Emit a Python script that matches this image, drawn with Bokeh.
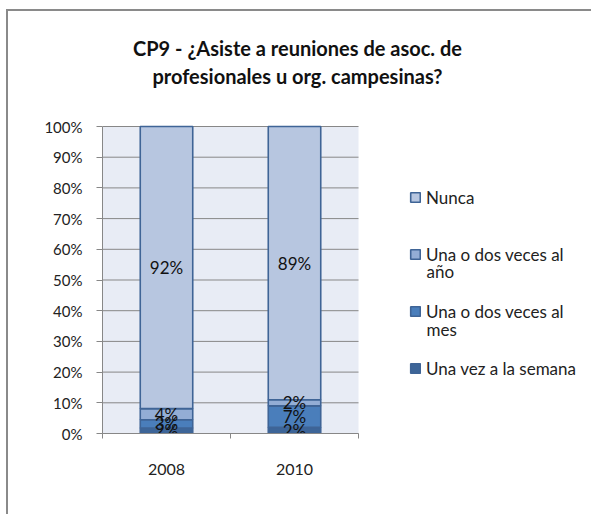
from bokeh.plotting import figure
from bokeh.models import (FixedTicker, Legend, LegendItem, Label, ColumnDataSource, Range1d,
                          BoxAnnotation)
from bokeh.embed import file_html
from bokeh.resources import INLINE
from bokeh.core.properties import value

# ---------------- data ----------------
years = ["2008", "2010"]
series_keys = ["semana", "mes", "ano", "nunca"]
semana = [1.8, 2.0]
mes = [2.7, 7.0]
ano = [3.6, 2.0]
nunca = [91.9, 89.0]
y_ticks = [0, 10, 20, 30, 40, 50, 60, 70, 80, 90, 100]
title_lines = ["CP9 - ¿Asiste a reuniones de asoc. de",
               "profesionales u org. campesinas?"]
legend_labels = ["Nunca", "Una o dos veces al", "Una o dos veces al", "Una vez a la semana"]
legend_series = [3, 2, 1, 0]
legend_second_lines = ["año", "mes"]

# ---------------- style / layout ----------------
FONT = "Lato"
colors = ["#3D6598", "#4A7EBB", "#93ADD5", "#B7C6E0"]
bar_line = "#3F6496"
grid_col = "#878787"
text_col = "#222222"

PX_PER_PCT = 3.07      # plot-area height 307 px for 100 %
PX_PER_CAT = 128.0     # plot-area width per category
W, H = 585, 505
ML, MT, MR, MB = 94, 3, 2, 83
frame_w = W - ML - MR
frame_h = H - MT - MB
x_max = frame_w / PX_PER_CAT
y_max = frame_h / PX_PER_PCT

def dx(px):  # pixels right of plot-area left edge -> data x
    return px / PX_PER_CAT

def dy(px):  # pixels above plot-area bottom -> data y
    return px / PX_PER_PCT

x = [i + 0.5 for i in range(len(years))]
src = ColumnDataSource(dict(x=x, semana=semana, mes=mes, ano=ano, nunca=nunca))

p = figure(width=W, height=H, x_range=Range1d(0, x_max), y_range=Range1d(0, y_max),
           output_backend="svg", toolbar_location=None,
           min_border_left=ML, min_border_right=MR, min_border_top=MT, min_border_bottom=MB)
p.styles = {"margin-left": "6px", "margin-top": "9px",
            "border-left": "2px solid #8a8a8a", "border-top": "2px solid #8a8a8a"}
p.border_fill_color = "white"
p.background_fill_color = "white"
p.outline_line_color = None

# plot-area background spanning the categories and the 0-100 % scale
p.add_layout(BoxAnnotation(left=0, right=len(years), bottom=y_ticks[0], top=y_ticks[-1],
                           fill_color="#E8ECF5", fill_alpha=1, line_color=None, level="image"))

# horizontal gridlines limited to the plot area (category span)
p.xgrid.visible = False
p.ygrid.visible = False
n_cat = len(years)
grid_r = p.segment(x0=[0] * len(y_ticks), x1=[n_cat] * len(y_ticks), y0=y_ticks, y1=y_ticks,
                   line_color=grid_col, line_width=1, level="underlay")

renderers = p.vbar_stack(series_keys, x="x", width=0.41, source=src,
                         fill_color=colors, line_color=bar_line, line_width=1.6)

# data labels
vals = {"semana": semana, "mes": mes, "ano": ano, "nunca": nunca}
lx, ly, lt = [], [], []
for i in range(len(years)):
    bottom = 0.0
    for k in series_keys:
        v = vals[k][i]
        lx.append(x[i])
        ly.append(bottom + v / 2)
        lt.append(f"{round(v)}%")
        bottom += v
p.text(x=lx, y=ly, text=lt, text_align="center", text_baseline="middle",
       text_font=value(FONT), text_font_size="17px", text_color="#111111")

# axes
p.yaxis.ticker = FixedTicker(ticks=y_ticks)
p.yaxis.bounds = (y_ticks[0], y_ticks[-1])
p.yaxis.major_label_overrides = {t: f"{t}%" for t in y_ticks}
p.yaxis.major_tick_out = 6
p.yaxis.major_tick_in = 0
p.yaxis.minor_tick_line_color = None
p.yaxis.major_label_standoff = 14
p.yaxis.axis_line_color = grid_col
p.yaxis.major_tick_line_color = grid_col

p.xaxis.ticker = FixedTicker(ticks=x, minor_ticks=[float(i) for i in range(n_cat + 1)])
p.xaxis.bounds = (0, n_cat)
p.xaxis.major_label_overrides = {x[i]: years[i] for i in range(n_cat)}
p.xaxis.major_tick_out = 0
p.xaxis.major_tick_in = 0
p.xaxis.minor_tick_out = 5
p.xaxis.minor_tick_in = 0
p.xaxis.minor_tick_line_color = grid_col
p.xaxis.axis_line_color = grid_col
p.xaxis.major_label_standoff = 25

for ax in (p.xaxis, p.yaxis):
    ax.major_label_text_font = FONT
    ax.major_label_text_color = "#222222"
p.yaxis.major_label_text_font_size = "15px"
p.xaxis.major_label_text_font_size = "16px"

# legend
items = [LegendItem(label=legend_labels[j], renderers=[renderers[legend_series[j]]])
         for j in range(len(legend_labels))]
legend = Legend(items=items, location=(307, 54), orientation="vertical",
                glyph_width=12, glyph_height=12, label_height=22, label_standoff=5,
                spacing=35, padding=0, margin=0,
                border_line_color=None, background_fill_alpha=0,
                label_text_font=FONT, label_text_font_size="17px",
                label_text_color=text_col, label_text_baseline="middle")
p.add_layout(legend, "center")

for txt, py in zip(legend_second_lines, [162, 104]):
    p.add_layout(Label(x=dx(324), y=dy(py), text=txt, text_font=FONT,
                       text_font_size="17px", text_color=text_col,
                       text_baseline="middle", text_align="left"))

# title
for txt, py in zip(title_lines, [386, 358]):
    p.add_layout(Label(x=dx(195), y=dy(py), text=txt, text_font=FONT,
                       text_font_size="20px", text_font_style="bold", text_color="#111111",
                       text_baseline="middle", text_align="center"))

open("out.html", "w").write(file_html(p, INLINE))
